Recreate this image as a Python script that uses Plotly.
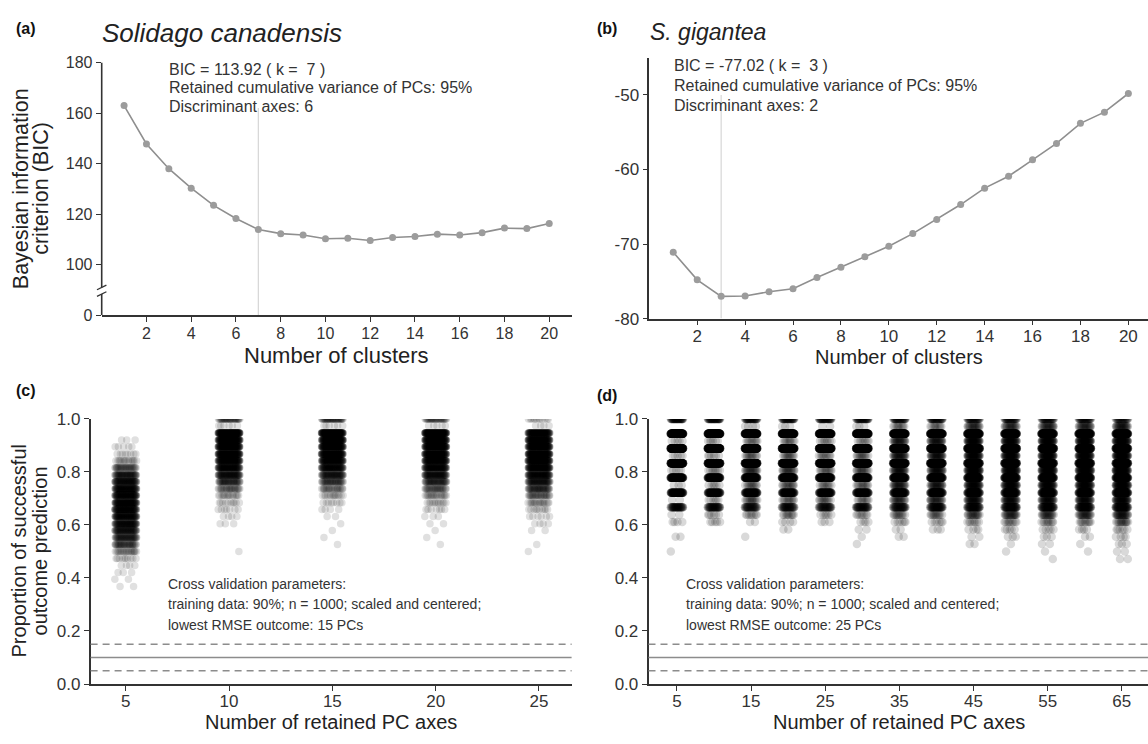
import plotly.graph_objects as go

W, H = 1148, 744
FONT = "Liberation Sans, Arial, Helvetica, sans-serif"

# ---------------- data ----------------
clusters = list(range(1, 21))
bic_canadensis = [163.0, 147.8, 138.0, 130.3, 123.5, 118.3, 113.92, 112.3, 111.8, 110.3,
                  110.5, 109.6, 110.8, 111.2, 112.1, 111.8, 112.7, 114.5, 114.3, 116.3]
bic_gigantea = [-71.1, -74.8, -77.02, -76.98, -76.4, -76.0, -74.5, -73.1, -71.7, -70.3,
                -68.6, -66.7, -64.7, -62.5, -60.9, -58.7, -56.5, -53.8, -52.3, -49.8]
best_k_canadensis = 7
best_k_gigantea = 3

# panel (c): retained PCs and counts of cross-validation replicates at each success level
pcs_c = [5, 10, 15, 20, 25]
levels_c = [1.000, 0.974, 0.947, 0.921, 0.895, 0.868, 0.842, 0.816, 0.789, 0.763, 0.737, 0.711,
            0.684, 0.658, 0.632, 0.605, 0.579, 0.553, 0.526, 0.500, 0.474, 0.447, 0.421, 0.395, 0.368]
counts_c = [
    [0, 0, 0, 3, 5, 8, 16, 35, 60, 80, 90, 95, 100, 95, 90, 80, 68, 55, 40, 22, 10, 4, 3, 2, 2],
    [40, 6, 150, 130, 125, 120, 110, 95, 75, 48, 28, 16, 10, 7, 4, 3, 0, 0, 0, 1, 0, 0, 0, 0, 0],
    [45, 6, 155, 135, 125, 120, 105, 90, 65, 42, 25, 14, 8, 4, 2, 1, 1, 1, 1, 0, 0, 0, 0, 0, 0],
    [35, 5, 145, 125, 125, 120, 110, 95, 75, 52, 32, 20, 12, 7, 3, 2, 1, 1, 1, 0, 0, 0, 0, 0, 0],
    [12, 4, 110, 115, 120, 125, 120, 110, 90, 68, 48, 30, 18, 10, 6, 4, 2, 0, 1, 1, 0, 0, 0, 0, 0],
]

# panel (d)
pcs_d = [5, 10, 15, 20, 25, 30, 35, 40, 45, 50, 55, 60, 65]
levels_d = [1.000, 0.972, 0.944, 0.917, 0.889, 0.861, 0.833, 0.806, 0.778, 0.750,
            0.722, 0.694, 0.667, 0.639, 0.611, 0.583, 0.556, 0.528, 0.500, 0.472]
counts_d = [
    [45, 0, 220, 5, 230, 5, 210, 5, 130, 3, 90, 2, 40, 2, 4, 0, 2, 0, 1, 0],
    [45, 0, 225, 6, 230, 6, 200, 8, 120, 6, 80, 6, 40, 6, 5, 0, 0, 0, 0, 0],
    [40, 4, 210, 10, 215, 12, 190, 20, 120, 12, 80, 14, 35, 8, 2, 0, 1, 0, 0, 0],
    [40, 3, 210, 10, 210, 12, 190, 18, 125, 14, 80, 12, 38, 10, 4, 2, 0, 0, 0, 0],
    [42, 2, 215, 8, 220, 10, 195, 12, 130, 10, 85, 12, 35, 6, 3, 0, 0, 0, 0, 0],
    [40, 3, 210, 8, 215, 12, 195, 15, 125, 12, 85, 10, 40, 8, 4, 2, 1, 1, 0, 0],
    [38, 10, 185, 25, 190, 28, 170, 30, 120, 25, 82, 20, 40, 12, 6, 2, 2, 0, 0, 0],
    [38, 10, 180, 28, 185, 30, 165, 32, 120, 26, 82, 22, 45, 12, 6, 3, 0, 0, 0, 0],
    [35, 20, 160, 45, 160, 45, 145, 50, 110, 42, 78, 35, 45, 18, 8, 4, 2, 2, 0, 0],
    [35, 20, 155, 45, 155, 48, 140, 50, 110, 45, 82, 35, 50, 22, 10, 5, 3, 1, 1, 0],
    [35, 22, 150, 48, 150, 50, 140, 52, 110, 45, 82, 36, 48, 20, 10, 5, 3, 2, 1, 1],
    [35, 22, 150, 50, 150, 50, 138, 52, 110, 46, 84, 36, 50, 22, 10, 4, 2, 1, 1, 0],
    [30, 26, 140, 52, 140, 55, 130, 58, 108, 52, 88, 42, 55, 28, 15, 6, 4, 3, 2, 2],
]
threshold_solid = 0.10
threshold_dashed = [0.05, 0.15]

# ---------------- helpers ----------------
PHI = 0.6180339887498949


def jittered(groups, levels, counts, half_width):
    """Expand counts per level into points; deterministic horizontal jitter (layout only)."""
    xs, ys = [], []
    for g, cnt in zip(groups, counts):
        idx = 0
        for lv, n in zip(levels, cnt):
            for _ in range(n):
                u = (idx * PHI + 0.31) % 1.0
                xs.append(g + half_width * (2 * u - 1))
                ys.append(lv)
                idx += 1
    return xs, ys


def px(x, y):
    return x / W, 1 - y / H


fig = go.Figure()

LINE_COL = "#8f8f8f"
fig.add_trace(go.Scatter(x=clusters, y=bic_canadensis, mode="lines+markers",
                         line=dict(color=LINE_COL, width=1.6),
                         marker=dict(color="#9c9c9c", size=7), xaxis="x", yaxis="y",
                         showlegend=False, hoverinfo="skip"))
fig.add_trace(go.Scatter(x=clusters, y=bic_gigantea, mode="lines+markers",
                         line=dict(color=LINE_COL, width=1.6),
                         marker=dict(color="#9c9c9c", size=7), xaxis="x2", yaxis="y2",
                         showlegend=False, hoverinfo="skip"))

xc, yc = jittered(pcs_c, levels_c, counts_c, 0.53)
fig.add_trace(go.Scatter(x=xc, y=yc, mode="markers",
                         marker=dict(color="rgba(0,0,0,0.12)", size=7.5, line=dict(width=0)),
                         xaxis="x3", yaxis="y3", showlegend=False, hoverinfo="skip"))
xd, yd = jittered(pcs_d, levels_d, counts_d, 0.85)
fig.add_trace(go.Scatter(x=xd, y=yd, mode="markers",
                         marker=dict(color="rgba(0,0,0,0.15)", size=8.5, line=dict(width=0)),
                         xaxis="x4", yaxis="y4", showlegend=False, hoverinfo="skip"))

AX = "#333333"
TICKF = dict(family=FONT, color="#333333")


def xax(domain, rng, tickvals, size, anchor, standoff=-2):
    return dict(domain=domain, range=rng, tickvals=tickvals, showline=True, linecolor=AX,
                linewidth=1.6, ticks="outside", ticklen=5, tickwidth=1.4, tickcolor=AX,
                showgrid=False, zeroline=False, tickfont=dict(size=size, **TICKF), anchor=anchor,
                ticklabelstandoff=standoff)


def yax(domain, rng, tickvals, ticktext, size, anchor, showline=True):
    return dict(domain=domain, range=rng, tickvals=tickvals, ticktext=ticktext,
                showline=showline, linecolor=AX, linewidth=1.6, ticks="outside", ticklen=5,
                tickwidth=1.4, tickcolor=AX, showgrid=False, zeroline=False,
                tickfont=dict(size=size, **TICKF), anchor=anchor)


# y-axis of (a) is broken: the bottom tick stands for 0
ya_vals = [80, 100, 120, 140, 160, 180]
ya_text = ["0", "100", "120", "140", "160", "180"]
yb_vals = [-80, -70, -60, -50]
yb_text = ["-80", "-70", "-60", "-50"]
prop_vals = [0, 0.2, 0.4, 0.6, 0.8, 1.0]
prop_text = ["0.0", "0.2", "0.4", "0.6", "0.8", "1.0"]

fig.update_layout(
    width=W, height=H, autosize=False, margin=dict(l=0, r=0, t=0, b=0),
    paper_bgcolor="white", plot_bgcolor="white", showlegend=False,
    xaxis=xax([101.7 / W, 571.6 / W], [0, 21], list(range(2, 21, 2)), 16, "y"),
    yaxis=yax([(H - 314.3) / H, (H - 55) / H], [80, 180], ya_vals, ya_text, 16, "x", showline=False),
    xaxis2=xax([649.3 / W, 1.0], [0, 20.82], list(range(2, 21, 2)), 17, "y2", standoff=-4),
    yaxis2=yax([(H - 317.7) / H, (H - 50) / H], [-80, -45], yb_vals, yb_text, 17, "x2"),
    xaxis3=xax([90.6 / W, 571.6 / W], [3.3, 26.58], pcs_c, 17, "y3", standoff=-4),
    yaxis3=yax([(H - 692.7) / H, (H - 420.7) / H], [0, 1], prop_vals, prop_text, 17, "x3"),
    xaxis4=xax([648.5 / W, 1.0], [1.17, 68.53], pcs_d[::2], 17, "y4", standoff=-4),
    yaxis4=yax([(H - 692.7) / H, (H - 420.7) / H], [0, 1], prop_vals, prop_text, 17, "x4"),
)

shapes = []
# broken y-axis line for (a)
BRK_HI, BRK_LO = 91.0, 88.4
shapes.append(dict(type="line", xref="x domain", yref="y", x0=0, x1=0, y0=180, y1=BRK_HI,
                   line=dict(color=AX, width=1.6)))
shapes.append(dict(type="line", xref="x domain", yref="y", x0=0, x1=0, y0=BRK_LO, y1=80,
                   line=dict(color=AX, width=1.6)))
for yb in (BRK_HI, BRK_LO):
    shapes.append(dict(type="line", xref="x domain", yref="y", x0=-0.010, x1=0.010,
                       y0=yb - 0.9, y1=yb + 0.9, line=dict(color=AX, width=1.3)))
# optimal k markers
shapes.append(dict(type="line", xref="x", yref="y", x0=best_k_canadensis, x1=best_k_canadensis,
                   y0=80, y1=162, line=dict(color="#d6d6d6", width=1.2), layer="below"))
shapes.append(dict(type="line", xref="x2", yref="y2", x0=best_k_gigantea, x1=best_k_gigantea,
                   y0=-80, y1=-50, line=dict(color="#d6d6d6", width=1.2), layer="below"))
# threshold lines in (c) and (d)
for xr, yr in (("x3 domain", "y3"), ("x4 domain", "y4")):
    shapes.append(dict(type="line", xref=xr, yref=yr, x0=0, x1=1, y0=threshold_solid,
                       y1=threshold_solid, line=dict(color="#8c8c8c", width=1.4)))
    for yv in threshold_dashed:
        shapes.append(dict(type="line", xref=xr, yref=yr, x0=0, x1=1, y0=yv, y1=yv,
                           line=dict(color="#8c8c8c", width=1.4, dash="7px,5px")))
fig.update_layout(shapes=shapes)

ann = []


def text(x, y, s, size, xanchor="left", color="#333333", bold=False, italic=False, angle=0):
    xx, yy = px(x, y)
    if bold:
        s = "<b>" + s + "</b>"
    if italic:
        s = "<i>" + s + "</i>"
    ann.append(dict(x=xx, y=yy, xref="paper", yref="paper", text=s, showarrow=False,
                    xanchor=xanchor, yanchor="middle", textangle=angle,
                    font=dict(family=FONT, size=size, color=color)))


# panel labels and titles
text(26, 20, "(a)", 16, "center", "#111111", bold=True)
text(100, 24.5, "Solidago canadensis", 26, "left", "#222222", italic=True)
text(607, 20, "(b)", 16, "center", "#111111", bold=True)
text(648, 23.5, "S. gigantea", 23, "left", "#222222", italic=True)
text(26, 391, "(c)", 16, "center", "#111111", bold=True)
text(607, 397, "(d)", 16, "center", "#111111", bold=True)

# in-plot notes
text(167, 62, "BIC = 113.92 ( k =\u00a0 7 )", 16)
text(167, 81, "Retained cumulative variance of PCs: 95%", 16)
text(167, 100, "Discriminant axes: 6", 16)
text(672, 58.3, "BIC = -77.02 ( k =\u00a0 3 )", 16)
text(672, 79, "Retained cumulative variance of PCs: 95%", 16)
text(672, 99, "Discriminant axes: 2", 16)
for x0, best in ((165.5, 15), (684.4, 25)):
    text(x0, 590, "Cross validation parameters:", 14)
    text(x0, 610.7, "training data: 90%; n = 1000; scaled and centered;", 14)
    text(x0, 631.7, "lowest RMSE outcome: %d PCs" % best, 14)

# axis titles
text(336.7, 356, "Number of clusters", 22, "center", "#222222")
text(899, 357, "Number of clusters", 20, "center", "#222222")
text(331, 732, "Number of retained PC axes", 20, "center", "#222222")
text(899.4, 732, "Number of retained PC axes", 20, "center", "#222222")
text(20.4, 184.5, "Bayesian information", 21.5, "center", "#222222", angle=-90)
text(41, 184.5, "criterion (BIC)", 21.5, "center", "#222222", angle=-90)
text(19, 556.7, "Proportion of successful", 20, "center", "#222222", angle=-90)
text(40, 556.7, "outcome prediction", 20, "center", "#222222", angle=-90)

fig.update_layout(annotations=ann)
fig.write_html("out.html")
